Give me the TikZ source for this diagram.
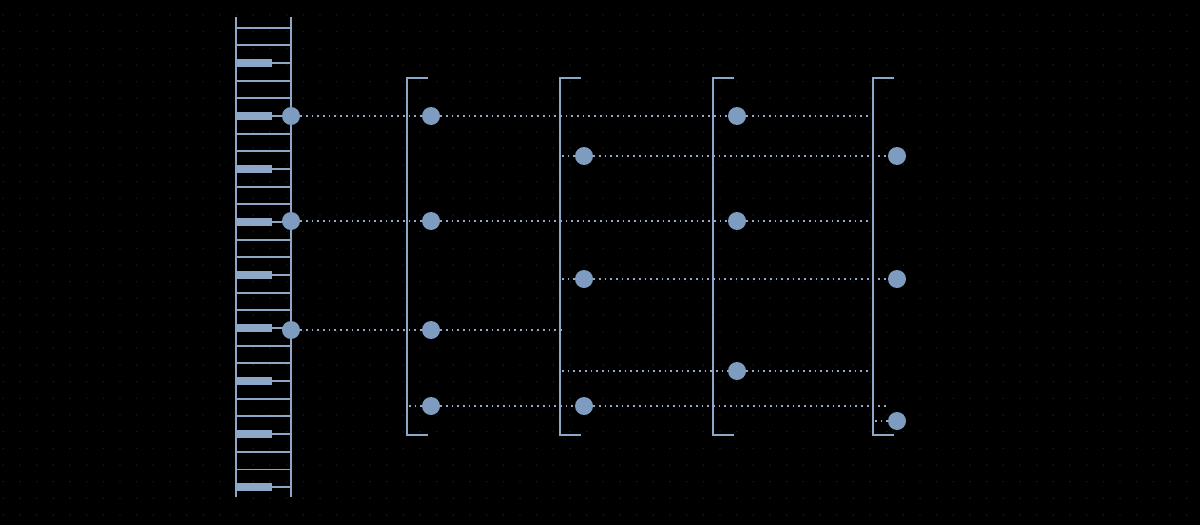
\documentclass[tikz,border=0pt]{standalone}
\definecolor{rail}{HTML}{8DA7C9}
\definecolor{dotc}{HTML}{7E9BC0}
\definecolor{conn}{HTML}{93AACA}
\definecolor{gridc}{HTML}{1A1A1A}
\begin{document}
\begin{tikzpicture}[x=1pt,y=-1pt,
  railline/.style={draw=rail,line width=2.4pt},
  rungline/.style={draw=rail,line width=1.7pt},
  rungbar/.style={fill=rail},
  ball/.style={circle,fill=dotc,inner sep=0pt,minimum size=18pt},
  link/.style={draw=conn,line width=1.7pt,dash pattern=on 1.7pt off 4pt},
  brk/.style={draw=rail,line width=2.2pt}]
\useasboundingbox (0,0) rectangle (1200,525);
\fill[black] (0,0) rectangle (1200,525);
% background dot grid
\foreach \i in {0,...,71}{
  \foreach \j in {0,...,30}{
    \fill[gridc] ({3.33+16.667*\i},{15+16.667*\j}) circle (0.9pt);
  }
}
% ladder
\foreach \k in {0,...,26}{
  \draw[rungline] (236,{27.67+17.667*\k}) -- (291,{27.67+17.667*\k});
}
\foreach \k in {2,5,...,26}{
  \fill[rungbar] (236,{27.67+17.667*\k-4.2}) rectangle (272,{27.67+17.667*\k+4.2});
}
\draw[railline] (236,17) -- (236,497);
\draw[railline] (291,17) -- (291,497);
% brackets
\foreach \x in {407,560,713,873}{
  \draw[brk] (\x+21,78) -- (\x,78) -- (\x,435) -- (\x+21,435);
}
% nodes
\node[ball] (L1) at (291,116) {};
\node[ball] (L2) at (291,221) {};
\node[ball] (L3) at (291,330) {};
\node[ball] (A1) at (431,116) {};
\node[ball] (A2) at (431,221) {};
\node[ball] (A3) at (431,330) {};
\node[ball] (A4) at (431,406) {};
\node[ball] (B1) at (584,156) {};
\node[ball] (B2) at (584,279) {};
\node[ball] (B3) at (584,406) {};
\node[ball] (C1) at (737,116) {};
\node[ball] (C2) at (737,221) {};
\node[ball] (C3) at (737,371) {};
\node[ball] (D1) at (897,156) {};
\node[ball] (D2) at (897,279) {};
\node[ball] (D3) at (897,421) {};
% free ends
\coordinate (e1) at (870,116);
\coordinate (s2) at (562,156);
\coordinate (e3) at (870,221);
\coordinate (s4) at (562,279);
\coordinate (e5) at (563,330);
\coordinate (s6) at (562,371);
\coordinate (e6) at (870,371);
\coordinate (s7) at (409,406);
\coordinate (e7) at (886,406);
\coordinate (s8) at (875,421);
% connectors
\draw[link] (L1) -- (A1);
\draw[link] (A1) -- (C1);
\draw[link] (C1) -- (e1);
\draw[link] (s2) -- (B1);
\draw[link] (B1) -- (D1);
\draw[link] (L2) -- (A2);
\draw[link] (A2) -- (C2);
\draw[link] (C2) -- (e3);
\draw[link] (s4) -- (B2);
\draw[link] (B2) -- (D2);
\draw[link] (L3) -- (A3);
\draw[link] (A3) -- (e5);
\draw[link] (s6) -- (C3);
\draw[link] (C3) -- (e6);
\draw[link] (s7) -- (A4);
\draw[link] (A4) -- (B3);
\draw[link] (B3) -- (e7);
\draw[link] (s8) -- (D3);
\end{tikzpicture}
\end{document}
